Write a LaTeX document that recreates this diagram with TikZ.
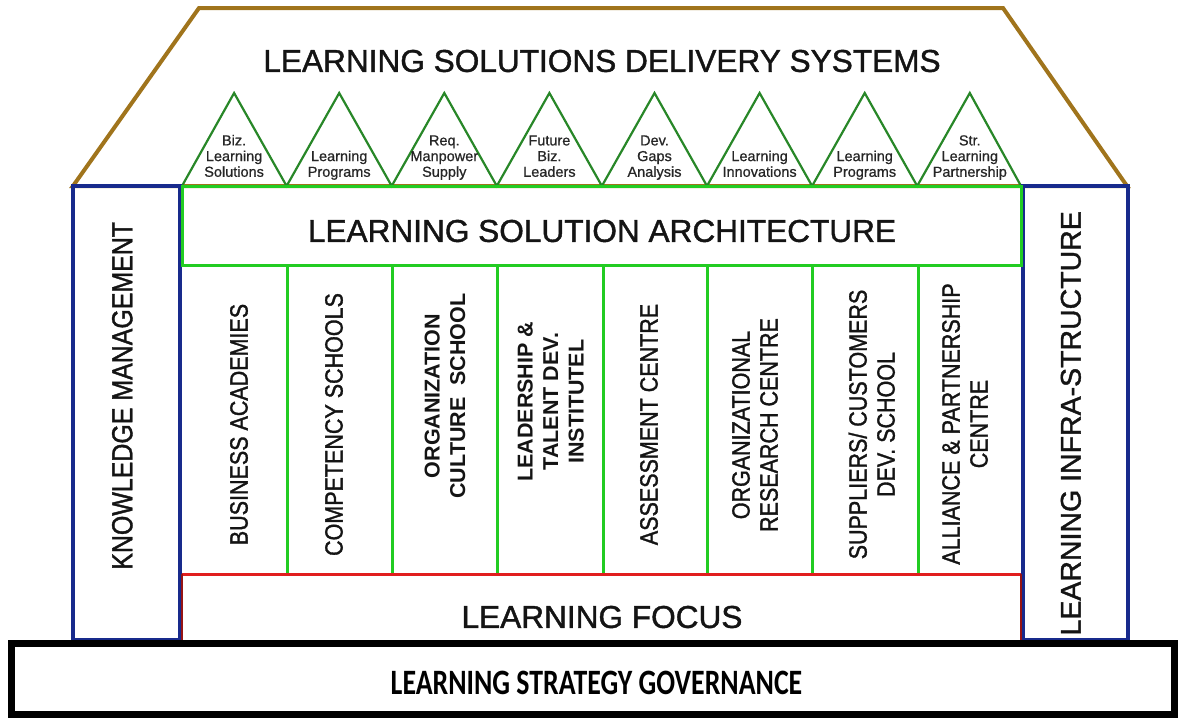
\documentclass[tikz,border=0pt]{standalone}
\usepackage{fontspec}
\setmainfont{Liberation Sans}
\newfontfamily\headfont[FakeBold=1.3]{Liberation Sans}
\newfontfamily\smallfont[FakeBold=0.8]{Liberation Sans}
\newfontfamily\narrowfont[FakeStretch=0.86, FakeBold=1.3]{Liberation Sans}
\newfontfamily\govfont[FakeStretch=0.78]{Carlito}
\definecolor{roofbrown}{RGB}{160,116,28}
\definecolor{trigreen}{RGB}{40,135,40}
\definecolor{linegreen}{RGB}{34,204,34}
\definecolor{pillarblue}{RGB}{24,42,140}
\definecolor{focusred}{RGB}{225,30,30}
\definecolor{focusdark}{RGB}{150,20,20}
\begin{document}
\begin{tikzpicture}[x=1pt,y=-1pt,
    bigtitle/.style={inner sep=0pt, text=black!92, font=\headfont\fontsize{31.6}{36}\selectfont},
    tritext/.style={inner sep=0pt, anchor=south, align=center, text=black!85, font=\smallfont\fontsize{14.5}{15.7}\selectfont},
    coltext/.style={inner sep=0pt, rotate=90, align=center, text=black!92, font=\narrowfont\fontsize{25}{28}\selectfont},
    colbold/.style={inner sep=0pt, rotate=90, align=center, text=black!92, font=\bfseries\fontsize{21.5}{25.5}\selectfont},
    pillar/.style={draw=pillarblue, line width=3.5pt},
    greenline/.style={draw=linegreen, line width=3pt}]
    \useasboundingbox (0,0) rectangle (1178,718);

    % 屋根
    \draw[roofbrown, line width=4pt] (73,186) -- (199,8) -- (1003,8) -- (1127,186) -- cycle;
    \node[bigtitle] (lsds) at (602,61) {LEARNING SOLUTIONS DELIVERY SYSTEMS};

    % 三角形
    \draw[trigreen, line width=2.2pt] (182,186) -- (234.1,93) -- (286.6,186) -- (339.2,93) -- (391.7,186)
        -- (444.3,93) -- (496.8,186) -- (549.4,93) -- (601.9,186) -- (654.5,93) -- (707,186)
        -- (759.6,93) -- (812.1,186) -- (864.7,93) -- (917.2,186) -- (969.8,93) -- (1021,186);
    \node[tritext] (tri1) at (234.1,181.7) {Biz.\\Learning\\Solutions\strut};
    \node[tritext] (tri2) at (339.2,181.7) {Learning\\Programs\strut};
    \node[tritext] (tri3) at (444.3,181.7) {Req.\\Manpower\\Supply\strut};
    \node[tritext] (tri4) at (549.4,181.7) {Future\\Biz.\\Leaders\strut};
    \node[tritext] (tri5) at (654.5,181.7) {Dev.\\Gaps\\Analysis\strut};
    \node[tritext] (tri6) at (759.6,181.7) {Learning\\Innovations\strut};
    \node[tritext] (tri7) at (864.7,181.7) {Learning\\Programs\strut};
    \node[tritext] (tri8) at (969.8,181.7) {Str.\\Learning\\Partnership\strut};

    % 左右の柱
    \draw[pillar] (73,186) rectangle (180,640);
    \draw[pillar] (1023,186) rectangle (1128,640);
    \node[rotate=90, inner sep=0pt, text=black!92, font=\narrowfont\fontsize{29}{32}\selectfont] (km) at (122.3,395.8) {KNOWLEDGE MANAGEMENT};
    \node[rotate=90, inner sep=0pt, text=black!92, font=\headfont\fontsize{28.5}{32}\selectfont] (infra) at (1070.8,423.3) {LEARNING INFRA-STRUCTURE};

    % アーキテクチャ
    \draw[greenline] (182,186) rectangle (1021,265);
    \node[bigtitle] (arch) at (602,231) {LEARNING SOLUTION ARCHITECTURE};

    % 列の仕切り
    \draw[greenline] (287,265) -- (287,574);
    \draw[greenline] (392,265) -- (392,574);
    \draw[greenline] (497.5,265) -- (497.5,574);
    \draw[greenline] (603,265) -- (603,574);
    \draw[greenline] (707.5,265) -- (707.5,574);
    \draw[greenline] (812.5,265) -- (812.5,574);
    \draw[greenline] (918,265) -- (918,574);

    % 列の名前
    \node[coltext] (col1) at (239,424.5) {BUSINESS ACADEMIES};
    \node[coltext] (col2) at (334,424.5) {COMPETENCY SCHOOLS};
    \node[colbold] (col3) at (445,396) {ORGANIZATION\\CULTURE\ \ SCHOOL};
    \node[colbold] (col4) at (550.8,401.7) {LEADERSHIP \&\\TALENT DEV.\\INSTITUTEL};
    \node[coltext] (col5) at (649,424.5) {ASSESSMENT CENTRE};
    \node[coltext] (col6) at (755,425) {ORGANIZATIONAL\\RESEARCH CENTRE};
    \node[coltext] (col7) at (871.7,424.5) {SUPPLIERS/ CUSTOMERS\\DEV. SCHOOL};
    \node[coltext] (col8) at (965,424) {ALLIANCE \& PARTNERSHIP\\CENTRE};

    % 土台
    \draw[focusred, line width=3pt] (182,574) -- (1021,574);
    \draw[focusdark, line width=2.5pt] (182,574) -- (182,640);
    \draw[focusdark, line width=2.5pt] (1021,574) -- (1021,640);
    \node[bigtitle] (focus) at (602,617) {LEARNING FOCUS};

    % ガバナンス
    \draw[black, line width=7pt] (11.5,643.5) rectangle (1174.5,714.5);
    \node[inner sep=0pt, font=\govfont\bfseries\fontsize{35.7}{40}\selectfont] (gov) at (596.5,683) {LEARNING STRATEGY GOVERNANCE};
\end{tikzpicture}
\end{document}
